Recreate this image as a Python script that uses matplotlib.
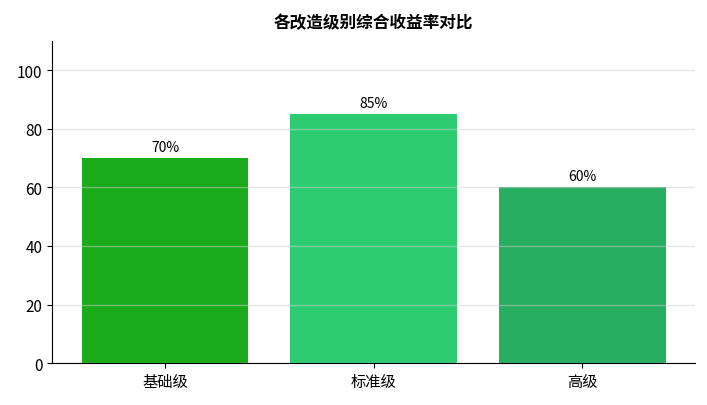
import matplotlib
matplotlib.use("Agg")
import matplotlib.pyplot as plt

# 数据
categories = ["基础级", "标准级", "高级"]
values = [70, 85, 60]
colors = ["#1aab1a", "#2ecc71", "#27ae60"]

plt.rcParams["font.family"] = ["Noto Sans CJK SC", "DejaVu Sans"]
plt.rcParams["axes.unicode_minus"] = False

fig, ax = plt.subplots(figsize=(7.07, 4.06), dpi=100)
bars = ax.bar(categories, values, color=colors, width=0.8)

for b, v in zip(bars, values):
    ax.text(b.get_x() + b.get_width() / 2, v + 1.5, f"{v}%",
            ha="center", va="bottom", fontsize=10)

ax.set_ylim(0, 110)
ax.set_yticks([0, 20, 40, 60, 80, 100])
ax.set_title("各改造级别综合收益率对比", fontsize=12, fontweight="bold", pad=10)
ax.grid(axis="y", color="#cccccc", alpha=0.5, linewidth=1)
ax.spines["top"].set_visible(False)
ax.spines["right"].set_visible(False)
ax.tick_params(labelsize=11)

fig.subplots_adjust(left=0.074, right=0.983, top=0.897, bottom=0.103)
fig.savefig("out.png", dpi=100)
